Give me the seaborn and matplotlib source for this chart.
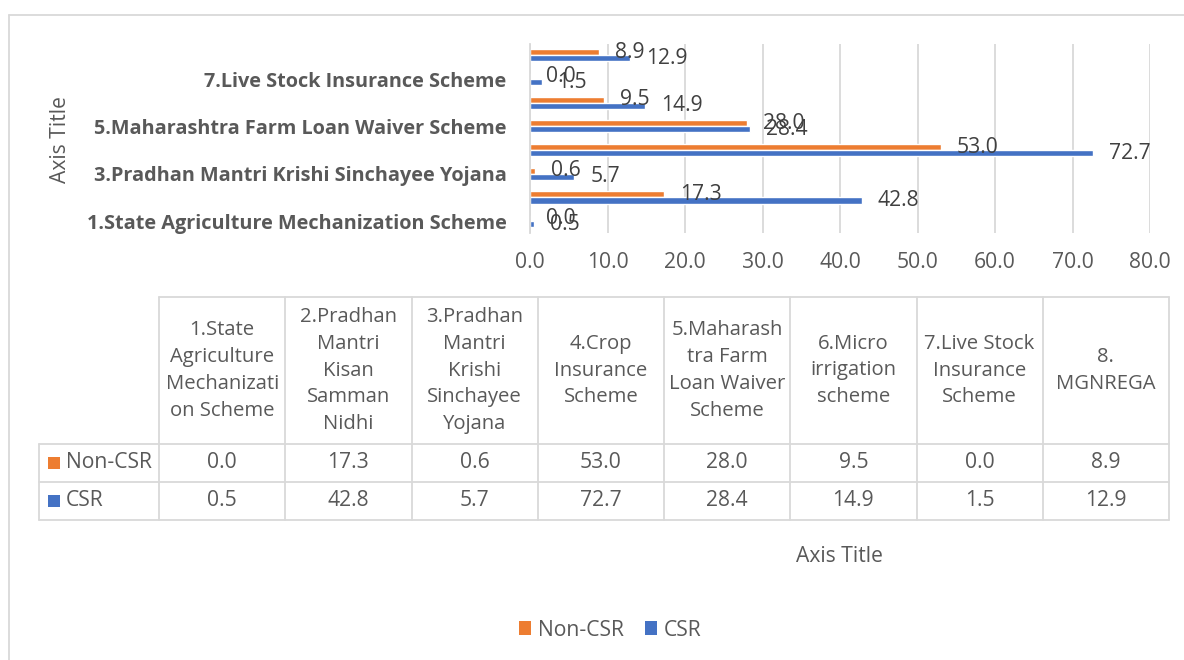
import pandas as pd
import numpy as np
import matplotlib
matplotlib.use("Agg")
import matplotlib.pyplot as plt
import seaborn as sns
from matplotlib.patches import Patch, Rectangle

# --- DADOS ---
esquemas = [
    "1.State Agriculture Mechanization Scheme",
    "2.Pradhan Mantri Kisan Samman Nidhi",
    "3.Pradhan Mantri Krishi Sinchayee Yojana",
    "4.Crop Insurance Scheme",
    "5.Maharashtra Farm Loan Waiver Scheme",
    "6.Micro irrigation scheme",
    "7.Live Stock Insurance Scheme",
    "8. MGNREGA",
]
cabecalho_tabela = [
    "1.State\nAgriculture\nMechanizati\non Scheme",
    "2.Pradhan\nMantri\nKisan\nSamman\nNidhi",
    "3.Pradhan\nMantri\nKrishi\nSinchayee\nYojana",
    "4.Crop\nInsurance\nScheme",
    "5.Maharash\ntra Farm\nLoan Waiver\nScheme",
    "6.Micro\nirrigation\nscheme",
    "7.Live Stock\nInsurance\nScheme",
    "8.\nMGNREGA",
]
non_csr = [0.0, 17.3, 0.6, 53.0, 28.0, 9.5, 0.0, 8.9]
csr = [0.5, 42.8, 5.7, 72.7, 28.4, 14.9, 1.5, 12.9]
series = ["Non-CSR", "CSR"]
xticks = [0, 10, 20, 30, 40, 50, 60, 70, 80]

CORES = {"Non-CSR": "#ED7D31", "CSR": "#4472C4"}
CINZA = "#595959"
GRADE = "#D9D9D9"
FS = 15.2

df = pd.DataFrame({
    "esquema": esquemas * 2,
    "grupo": ["Non-CSR"] * len(esquemas) + ["CSR"] * len(esquemas),
    "valor": non_csr + csr,
})

sns.set_theme(style="white")
plt.rcParams["font.family"] = ["Open Sans", "DejaVu Sans"]

W, H = 1184, 660
fig = plt.figure(figsize=(W / 100, H / 100), dpi=100)

# camada de fundo em pixels (tabela, borda, legenda)
bg = fig.add_axes([0, 0, 1, 1], zorder=-1)
bg.set_xlim(0, W)
bg.set_ylim(H, 0)
bg.axis("off")

# --- GRAFICO DE BARRAS ---
x0, x1, y0, y1 = 530, 1150, 43.5, 233
ax = fig.add_axes([x0 / W, 1 - y1 / H, (x1 - x0) / W, (y1 - y0) / H])
ax.set_facecolor("none")
ordem = esquemas[::-1]
sns.barplot(data=df, y="esquema", x="valor", hue="grupo", order=ordem,
            hue_order=series, palette=CORES, orient="h", width=0.51, gap=0,
            saturation=1, ax=ax, legend=False)

for cont in ax.containers:
    ax.bar_label(cont, fmt="%.1f", padding=11.5, fontsize=FS, color="#404040")

ax.set_xlim(0, 80)
ax.set_xticks(xticks)
ax.set_xticklabels([f"{v:.1f}" for v in xticks])
ax.set_ylim(len(esquemas) - 0.5, -0.5)
ax.set_yticks(range(len(ordem)))
ax.set_yticklabels([e if (len(ordem) - i) % 2 == 1 else "" for i, e in enumerate(ordem)],
                   fontweight="bold")
ax.tick_params(axis="y", length=0, pad=17, labelsize=14.3, labelcolor=CINZA)
ax.tick_params(axis="x", length=0, pad=14, labelsize=FS, labelcolor=CINZA)
ax.set_xlabel("")
ax.set_ylabel("")
ax.grid(axis="x", color=GRADE, linewidth=1.3)
ax.set_axisbelow(True)
for s in ["top", "right", "bottom"]:
    ax.spines[s].set_visible(False)
ax.spines["left"].set_color(GRADE)
ax.spines["left"].set_linewidth(1.3)

bg.text(61, 140, "Axis Title", rotation=90, ha="center", va="center",
        fontsize=FS, color=CINZA)

# --- TABELA DE DADOS ---
t_left, t_key, t_right = 39, 159, 1169
t_top, t_head, row_h = 297, 444, 38
col_w = (t_right - t_key) / len(esquemas)
t_bot = t_head + 2 * row_h
lw = 1.3
bg.plot([t_key, t_right], [t_top, t_top], color=GRADE, lw=lw)
for yy in [t_head, t_head + row_h, t_bot]:
    bg.plot([t_left, t_right], [yy, yy], color=GRADE, lw=lw)
bg.plot([t_left, t_left], [t_head, t_bot], color=GRADE, lw=lw)
for k in range(len(esquemas) + 1):
    xx = t_key + k * col_w
    bg.plot([xx, xx], [t_top, t_bot], color=GRADE, lw=lw)

for k, txt in enumerate(cabecalho_tabela):
    cx = t_key + (k + 0.5) * col_w
    bg.text(cx, (t_top + t_head) / 2, txt, ha="center", va="center",
            fontsize=14.6, color=CINZA, linespacing=1.45)

for r, (nome, vals) in enumerate(zip(series, [non_csr, csr])):
    cy = t_head + (r + 0.5) * row_h
    bg.add_patch(Rectangle((48, cy - 6), 12, 12, color=CORES[nome], lw=0))
    bg.text(66, cy, nome, ha="left", va="center", fontsize=FS, color=CINZA)
    for k, v in enumerate(vals):
        cx = t_key + (k + 0.5) * col_w
        bg.text(cx, cy, f"{v:.1f}", ha="center", va="center",
                fontsize=FS, color=CINZA)

bg.text(839, 557, "Axis Title", ha="center", va="center", fontsize=FS, color=CINZA)

# borda do grafico
bg.plot([9, 9], [15, H], color=GRADE, lw=1.3)
bg.plot([9, W], [15, 15], color=GRADE, lw=1.3)

# --- LEGENDA ---
handles = [Patch(facecolor=CORES[s], edgecolor="none", label=s) for s in series]
fig.legend(handles=handles, loc="center", bbox_to_anchor=(610 / W, 1 - 630 / H),
           ncol=2, frameon=False, fontsize=FS, labelcolor=CINZA,
           handlelength=0.6, handleheight=0.6, handletextpad=0.3, columnspacing=1.0)

fig.savefig("out.png", dpi=100)
